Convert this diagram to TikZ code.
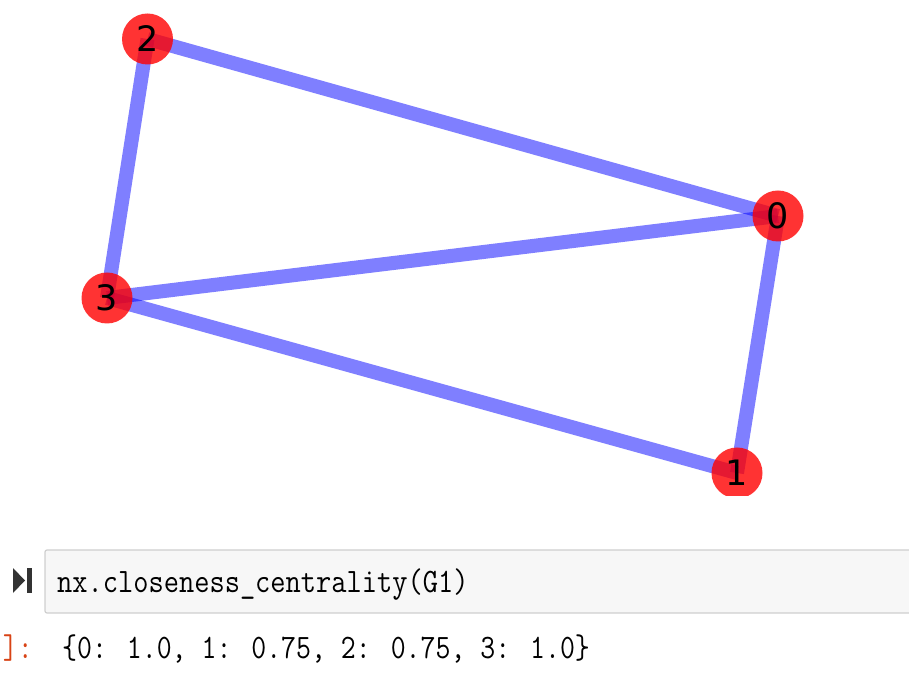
\documentclass[tikz,border=0pt]{standalone}
\usepackage{fontspec}
\usepackage{graphicx}
\newfontfamily\dejavu{DejaVu Sans}
\definecolor{edgeblue}{RGB}{0,0,255}
\definecolor{nodered}{RGB}{255,0,0}
\definecolor{promptred}{HTML}{D84315}
\definecolor{cellborder}{HTML}{CFCFCF}
\definecolor{cellfill}{HTML}{F7F7F7}
\definecolor{icongray}{HTML}{333333}
\tikzset{
  gnode/.style={circle, minimum size=51pt, inner sep=0pt, fill=nodered, fill opacity=0.8, text opacity=1, font=\dejavu\fontsize{35}{40}\selectfont, text=black},
  gedge/.style={draw=edgeblue, draw opacity=0.5, line width=14pt, line cap=butt},
  codetext/.style={anchor=base west, inner sep=0pt, font=\ttfamily\fontsize{29}{34}\selectfont},
}
\begin{document}
\begin{tikzpicture}[x=1pt,y=1pt]
\useasboundingbox (0,0) rectangle (909,685);
\begin{scope}
\clip (0,189) rectangle (909,685);
\coordinate (c0) at (778,469);
\coordinate (c1) at (737,212);
\coordinate (c2) at (147.5,646);
\coordinate (c3) at (107,387);
\draw[gedge] (c2) -- (c0);
\draw[gedge] (c2) -- (c3);
\draw[gedge] (c3) -- (c0);
\draw[gedge] (c3) -- (c1);
\draw[gedge] (c0) -- (c1);
\node[gnode] (n0) at (c0) {0};
\node[gnode] (n1) at (c1) {1};
\node[gnode] (n2) at (c2) {2};
\node[gnode] (n3) at (c3) {3};
\end{scope}
% code cell
\draw[draw=cellborder, fill=cellfill, line width=1.2pt, rounded corners=2pt] (45,72) rectangle (930,135);
\fill[icongray] (13,117) -- (25,104.5) -- (13,92) -- cycle;
\fill[icongray] (27,92) rectangle (32,117);
\node[codetext] (code) at (57,93) {\scalebox{1.02}[1.18]{nx.closeness\_centrality(G1)}};
\node[codetext, anchor=base east, text=promptred] (prompt) at (33,27) {\scalebox{1}[1.18]{]:}};
\node[codetext] (out) at (62,27) {\scalebox{1}[1.18]{\{0: 1.0, 1: 0.75, 2: 0.75, 3: 1.0\}}};
\end{tikzpicture}
\end{document}
